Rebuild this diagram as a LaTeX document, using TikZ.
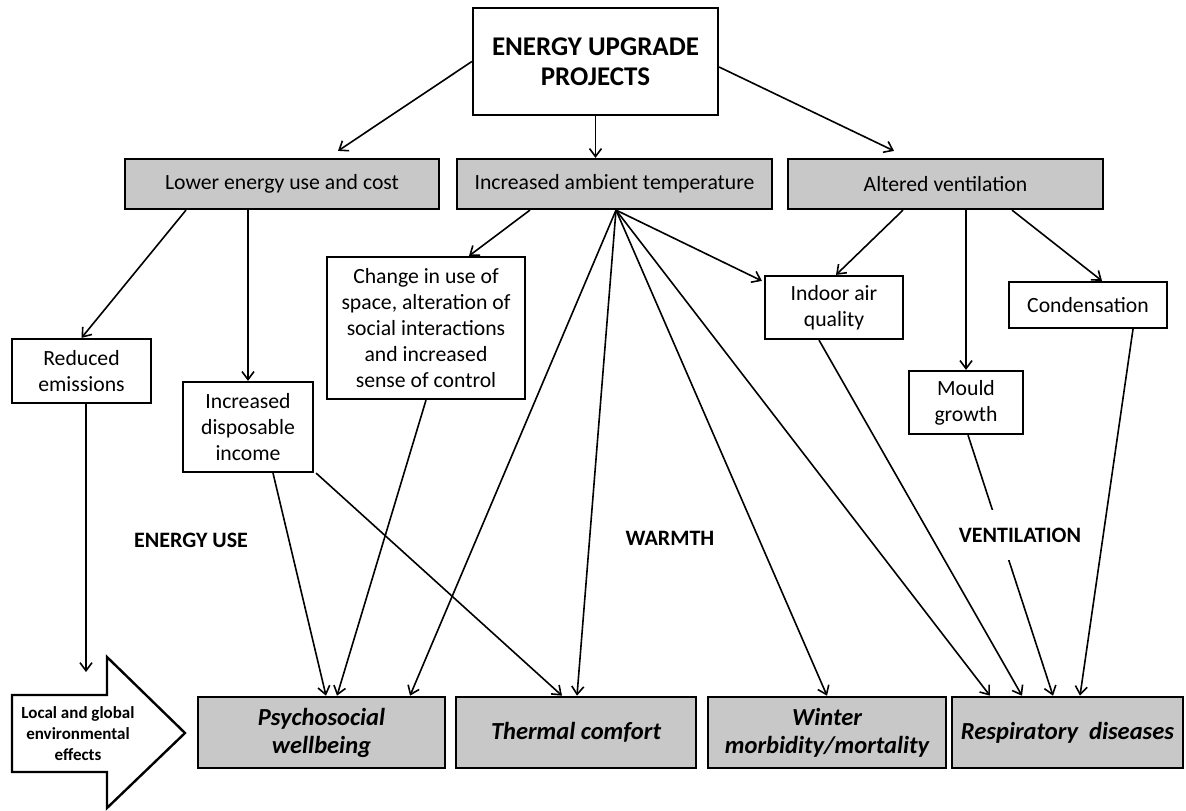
\documentclass[tikz,border=0pt]{standalone}
\usepackage{fontspec}
\setmainfont{Carlito}
\usetikzlibrary{arrows.meta}
\definecolor{boxgray}{RGB}{200,200,200}
\begin{document}
\begin{tikzpicture}[x=1pt,y=-1pt,
  box/.style={draw, line width=2.2pt, inner sep=0pt, align=center, font=\fontsize{21.7}{26}\selectfont},
  gbox/.style={box, fill=boxgray},
  obox/.style={gbox, line width=2.6pt, font=\fontsize{24.5}{28}\selectfont\bfseries\itshape},
  conn/.style={line width=1.6pt, -{Straight Barb[length=8pt,width=12pt]}},
  lab/.style={font=\fontsize{22}{24}\selectfont\bfseries, inner sep=0pt}]
\useasboundingbox (0,0) rectangle (1186,811);
\fill[white] (0,0) rectangle (1186,811);

% boxes
\node[box, minimum width=245pt, minimum height=107pt, font=\fontsize{27}{30}\selectfont\bfseries] (top) at (595.5,61.5) {ENERGY UPGRADE\\PROJECTS};
\node[gbox, minimum width=314pt, minimum height=50pt] (b1) at (282,184) {Lower energy use and cost};
\node[gbox, minimum width=315pt, minimum height=50pt] (b2) at (614.5,184) {Increased ambient temperature};
\node[gbox, minimum width=315pt, minimum height=50pt] (b3) at (945.5,184) {Altered ventilation};
\node[box, minimum width=139pt, minimum height=64pt] (red) at (81.5,371) {Reduced\\emissions};
\node[box, minimum width=130pt, minimum height=90pt] (inc) at (248,427) {Increased\\disposable\\income};
\node[box, minimum width=198pt, minimum height=142pt] (chg) at (426,328) {Change in use of\\space, alteration of\\social interactions\\and increased\\sense of control};
\node[box, minimum width=138pt, minimum height=63pt] (iaq) at (834,307.5) {Indoor air\\quality};
\node[box, minimum width=114pt, minimum height=63pt] (mould) at (966,402.5) {Mould\\growth};
\node[box, minimum width=158pt, minimum height=46pt] (cond) at (1088,305) {Condensation};
\node[obox, minimum width=247pt, minimum height=71pt] (psy) at (321.5,732.5) {Psychosocial\\wellbeing};
\node[obox, minimum width=240pt, minimum height=71pt] (therm) at (576,732.5) {Thermal comfort};
\node[obox, minimum width=238pt, minimum height=71pt] (wint) at (827,732.5) {Winter\\morbidity/mortality};
\node[obox, minimum width=231pt, minimum height=71pt] (resp) at (1067.5,732.5) {Respiratory\ \ diseases};

% big environmental arrow
\draw[line width=2.4pt, fill=white] (12,695) -- (107,695) -- (107,657) -- (185,733) -- (107,808) -- (107,772) -- (12,772) -- cycle;
\node[font=\fontsize{17}{21}\selectfont\bfseries, align=center, inner sep=0pt] (env) at (78,734) {Local and global\\environmental\\effects};
\coordinate (envin) at (86,672);

% connectors
\draw[conn] (top.west) -- ([xshift=56pt,yshift=7pt]b1.north);
\draw[conn] (top.south) -- (top.south |- b2.north);
\draw[conn] ([yshift=-5.5pt]top.east) -- ([xshift=-51.5pt,yshift=7pt]b3.north);
\draw[conn] ([xshift=-96pt]b1.south) -- (red.north);
\draw[conn] (inc.north |- b1.south) -- (inc.north);
\draw[conn] ([xshift=-84.5pt]b2.south) -- ([xshift=43pt]chg.north);
\coordinate (F) at ([xshift=1.5pt]b2.south);
\draw[conn] (F) -- ([xshift=-2pt,yshift=-6pt]iaq.north west);
\draw[conn] (F) -- ([xshift=88.5pt]psy.north);
\draw[conn] (F) -- ([xshift=1pt]therm.north);
\draw[conn] (F) -- (wint.north);
\draw[conn] (F) -- ([xshift=-77.5pt]resp.north);
\draw[conn] ([xshift=-42.5pt]b3.south) -- ([xshift=2pt]iaq.north);
\draw[conn] (mould.north |- b3.south) -- (mould.north);
\draw[conn] ([xshift=66.5pt]b3.south) -- ([xshift=14pt]cond.north);
\draw[conn] ([xshift=4.5pt]red.south) -- (envin);
\draw[conn] ([xshift=25pt]inc.south) -- ([xshift=4.5pt]psy.north);
\draw[conn] ([xshift=2pt]inc.south east) -- ([xshift=-14pt]therm.north);
\draw[conn] (chg.south) -- ([xshift=15.5pt]psy.north);
\draw[conn] ([xshift=-15pt]iaq.south) -- ([xshift=-45.5pt]resp.north);
\draw[conn] ([xshift=2pt]mould.south) -- ([xshift=-14.5pt]resp.north);
\draw[conn] ([xshift=45pt]cond.south) -- ([xshift=12.5pt]resp.north);

% section labels
\node[lab] (lenergy) at (191,540) {ENERGY USE};
\node[lab] (lwarm) at (670,538) {WARMTH};
\node[lab, fill=white, minimum height=50pt, inner xsep=2pt] (lvent) at (1020,535) {VENTILATION};
\end{tikzpicture}
\end{document}
